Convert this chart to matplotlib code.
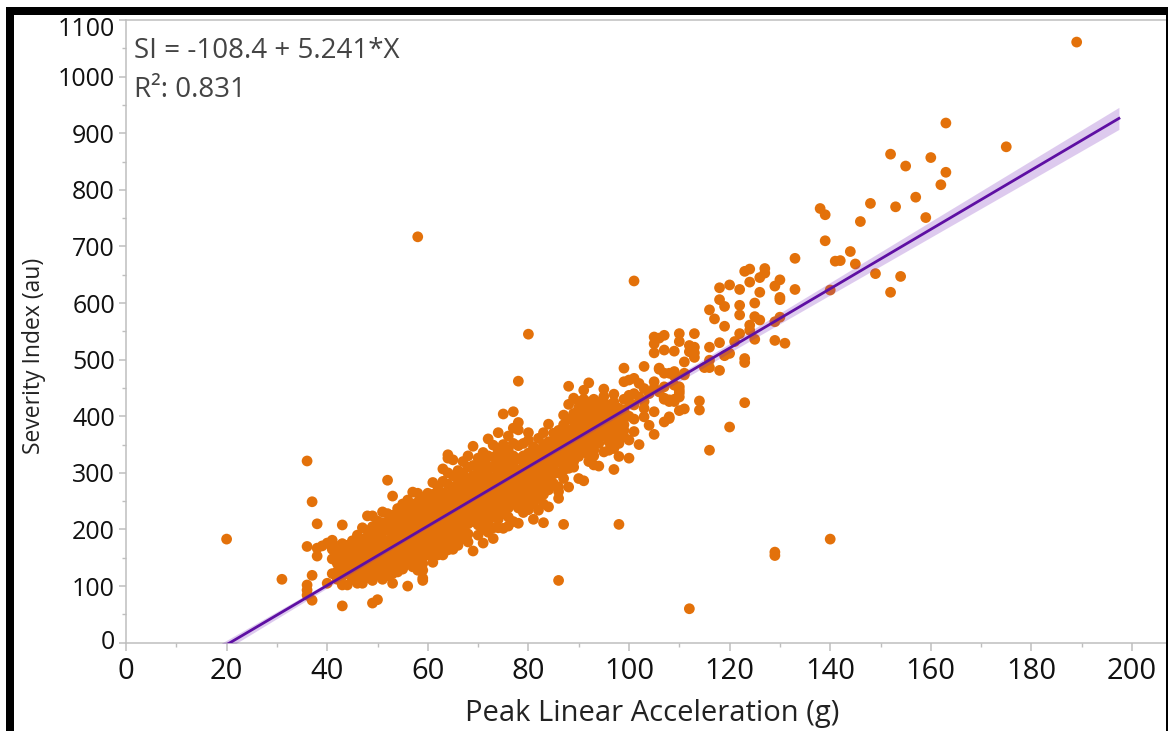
#!/usr/bin/env python3
"""Severity index against peak linear acceleration, with fitted line and confidence band."""

from __future__ import annotations

import matplotlib

matplotlib.use("Agg")

import matplotlib.pyplot as plt
from matplotlib.patches import Rectangle
from matplotlib.ticker import MultipleLocator
from matplotlib.transforms import ScaledTranslation


OUTFIG = "out.png"

# Impacts grouped by peak linear acceleration (g).
PLA_G = [
    20, 31, 36, 37, 38, 39, 40, 41, 42, 43, 44, 45, 46, 47, 48, 49, 50,
    51, 52, 53, 54, 55, 56, 57, 58, 59, 60, 61, 62, 63, 64, 65, 66, 67,
    68, 69, 70, 71, 72, 73, 74, 75, 76, 77, 78, 79, 80, 81, 82, 83, 84,
    85, 86, 87, 88, 89, 90, 91, 92, 93, 94, 95, 96, 97, 98, 99, 100, 101,
    102, 103, 104, 105, 106, 107, 108, 109, 110, 111, 112, 113, 114, 115,
    116, 117, 118, 119, 120, 121, 122, 123, 124, 125, 126, 127, 129, 130,
    131, 133, 138, 139, 140, 141, 142, 144, 145, 146, 148, 149, 152, 153,
    154, 155, 157, 159, 160, 162, 163, 175, 189,
]
SEVERITY_AU = [
    [183],
    [112],
    [321, 170, 102, 93, 84],
    [249, 119, 75],
    [210, 167, 153],
    [171],
    [176, 105],
    [181, 165, 148, 122],
    [170, 164, 152, 140, 126, 112],
    [208, 175, 160, 146, 133, 118, 102, 65],
    [172, 158, 150, 136, 122, 102],
    [180, 166, 155, 140, 128, 112],
    [190, 172, 160, 148, 134, 122, 105],
    [203, 183, 170, 158, 146, 130, 118, 105],
    [224, 198, 182, 168, 155, 142, 130, 115],
    [224, 205, 188, 172, 160, 148, 135, 122, 110, 70],
    [215, 198, 182, 170, 155, 142, 130, 120, 76],
    [231, 212, 196, 180, 165, 150, 138, 125, 112],
    [287, 228, 212, 198, 180, 170, 155, 140, 128, 118],
    [259, 225, 210, 195, 182, 168, 152, 138, 122, 105],
    [237, 222, 208, 192, 178, 165, 150, 136, 125],
    [245, 230, 215, 200, 185, 172, 158, 145, 130],
    [252, 238, 222, 208, 195, 180, 165, 150, 140, 100],
    [266, 245, 230, 215, 200, 186, 172, 158, 145, 134],
    [717, 264, 248, 232, 218, 205, 190, 175, 160, 145, 128],
    [255, 240, 225, 212, 198, 184, 170, 155, 140, 128, 114, 110],
    [264, 250, 235, 222, 208, 195, 180, 168, 155],
    [283, 262, 248, 232, 218, 205, 190, 175, 160, 142],
    [275, 258, 242, 228, 214, 200, 185, 170, 155],
    [307, 285, 265, 250, 235, 220, 205, 190, 172, 155],
    [332, 326, 300, 280, 262, 245, 228, 212, 196, 180, 164],
    [323, 295, 275, 258, 240, 225, 210, 195, 181, 165],
    [304, 288, 270, 252, 236, 220, 205, 190, 172],
    [320, 300, 282, 265, 248, 232, 216, 200, 184],
    [330, 310, 290, 272, 255, 240, 225, 210, 192, 178],
    [347, 313, 295, 278, 262, 245, 230, 214, 162],
    [326, 308, 292, 275, 258, 242, 225, 208, 190],
    [336, 318, 300, 285, 268, 252, 235, 218, 200, 176],
    [360, 330, 312, 295, 278, 262, 245, 228, 210, 195],
    [349, 328, 310, 292, 275, 258, 240, 222, 203, 184],
    [371, 340, 320, 302, 285, 268, 250, 235, 218, 203],
    [404, 350, 330, 312, 295, 278, 262, 245, 228, 202],
    [365, 340, 322, 305, 288, 270, 255, 238, 222, 206],
    [408, 379, 352, 330, 312, 295, 278, 262, 245, 214],
    [462, 389, 376, 348, 325, 305, 288, 272, 255, 238, 211],
    [352, 330, 312, 295, 280, 262, 248, 230],
    [545, 371, 358, 335, 318, 300, 285, 268, 250, 235],
    [346, 328, 310, 295, 278, 262, 245, 218],
    [361, 340, 322, 305, 288, 272, 255, 234],
    [371, 350, 332, 315, 298, 280, 262, 245, 212],
    [386, 355, 340, 322, 305, 288, 270, 240],
    [370, 355, 345, 335, 325, 310, 298, 281, 278],
    [375, 367, 355, 340, 330, 320, 300, 275, 267, 255, 110],
    [402, 385, 370, 358, 345, 335, 325, 315, 305, 290, 209],
    [453, 421, 395, 376, 365, 350, 340, 328, 318, 308, 275],
    [432, 405, 395, 380, 370, 355, 345, 330, 320, 310],
    [426, 415, 402, 391, 380, 365, 355, 345, 329, 290],
    [446, 430, 414, 400, 385, 372, 360, 350, 338, 286],
    [459, 425, 410, 395, 380, 368, 355, 342, 331, 320],
    [430, 414, 398, 383, 370, 360, 352, 340, 330, 314],
    [425, 411, 395, 385, 375, 368, 360, 352, 312],
    [448, 435, 420, 410, 400, 390, 380, 372, 365, 337],
    [420, 410, 400, 390, 375, 365, 355, 340],
    [439, 425, 408, 395, 385, 370, 358, 343, 306],
    [414, 405, 390, 380, 370, 352, 329, 209],
    [485, 461, 430, 411, 400, 385, 375, 364],
    [464, 437, 426, 400, 358, 326],
    [639, 467, 440, 420, 395, 373],
    [458, 434, 350],
    [488, 449, 426, 414, 399],
    [440, 384],
    [540, 528, 512, 461, 450, 408, 368],
    [538, 485, 483, 443],
    [543, 517, 476, 452, 432, 430, 390],
    [476, 429, 426, 399, 396],
    [515, 479, 471, 455, 430, 426],
    [546, 532, 452, 446, 441, 434, 410],
    [496, 476, 473, 413],
    [525, 514, 60],
    [546, 522, 512, 504],
    [427, 411],
    [486],
    [588, 522, 499, 486, 340],
    [572],
    [627, 606, 530, 481],
    [594, 559, 507],
    [632, 511, 381],
    [532],
    [624, 596, 579, 546],
    [656, 502, 495, 424],
    [660, 637, 561, 552],
    [600, 576, 536],
    [645, 619, 570],
    [661, 653],
    [630, 567, 534, 160, 154],
    [641, 610, 606, 575],
    [529],
    [679, 624],
    [767],
    [756, 710],
    [623, 183],
    [674],
    [675],
    [691],
    [669],
    [744],
    [776],
    [652],
    [863, 619],
    [770],
    [647],
    [842],
    [787],
    [751],
    [857],
    [809],
    [918, 831],
    [876],
    [1061],
]

# Fitted line and half width of its confidence band, read at these x values.
FIT_X = [19, 40, 60, 70, 80, 100, 120, 140, 160, 180, 197.4]
FIT_SI = [-8.8, 101.2, 206.1, 258.5, 310.9, 415.7, 520.5, 625.3, 730.2, 835.0, 926.2]
BAND_HALF = [8, 4.5, 3, 3, 3, 5, 8, 11, 14, 17, 19.5]

X_TICKS = list(range(0, 201, 20))
Y_TICKS = list(range(0, 1101, 100))
X_LABEL = "Peak Linear Acceleration (g)"
Y_LABEL = "Severity Index (au)"
FIT_TEXT = "SI = -108.4 + 5.241*X"
R2_TEXT = "R²: 0.831"

ORANGE = "#E3710A"
PURPLE = "#5E0FA3"
AXIS_GREY = "#BEBEBE"

W, H = 1168, 731
AX_LEFT, AX_RIGHT, AX_TOP, AX_BOTTOM = 126, 1166, 20, 642.7


def _add_frame(fig) -> None:
    # Black screenshot border on the left, top and right.
    boxes = [
        (6, 0, 8, H - 7),
        (6, H - 15, W - 6, 8),
        (1166, 0, 1.5, H - 7),
    ]
    for x, y, w, h in boxes:
        fig.add_artist(
            Rectangle((x / W, y / H), w / W, h / H, transform=fig.transFigure,
                      facecolor="black", edgecolor="none", zorder=10)
        )


def _shift_label(label, fig, dy_px: float) -> None:
    label.set_transform(
        label.get_transform() + ScaledTranslation(0, dy_px / 100, fig.dpi_scale_trans)
    )


def main() -> None:
    plt.rcParams["font.family"] = ["Open Sans", "DejaVu Sans"]

    fig = plt.figure(figsize=(W / 100, H / 100), dpi=100, facecolor="white")
    ax = fig.add_axes([
        AX_LEFT / W,
        (H - AX_BOTTOM) / H,
        (AX_RIGHT - AX_LEFT) / W,
        (AX_BOTTOM - AX_TOP) / H,
    ])

    xs, ys = [], []
    for pla, values in zip(PLA_G, SEVERITY_AU):
        xs.extend([pla] * len(values))
        ys.extend(values)

    ax.scatter(xs, ys, s=60, color=ORANGE, edgecolors="none", zorder=2)

    lower = [si - half for si, half in zip(FIT_SI, BAND_HALF)]
    upper = [si + half for si, half in zip(FIT_SI, BAND_HALF)]
    ax.fill_between(FIT_X, lower, upper, color="#7B2FBE", alpha=0.25, linewidth=0, zorder=3)
    ax.plot(FIT_X, FIT_SI, color=PURPLE, linewidth=2.0, zorder=4)

    ax.set_xlim(0, (AX_RIGHT - AX_LEFT) / 5.03)
    ax.set_ylim(0, 1100)
    ax.set_xticks(X_TICKS)
    ax.set_yticks(Y_TICKS)
    ax.xaxis.set_minor_locator(MultipleLocator(10))
    ax.yaxis.set_minor_locator(MultipleLocator(50))

    ax.tick_params(axis="both", which="major", width=1.1, color=AXIS_GREY, labelcolor="#111111")
    ax.tick_params(axis="both", which="minor", length=3, width=1.0, color=AXIS_GREY)
    ax.tick_params(axis="x", which="major", length=6, pad=4, labelsize=21)
    ax.tick_params(axis="y", which="major", length=5, pad=3, labelsize=18)

    for side in ("left", "top", "bottom"):
        ax.spines[side].set_color(AXIS_GREY)
        ax.spines[side].set_linewidth(1.1)
    ax.spines["right"].set_visible(False)

    # The end labels sit inside the panel rather than centred on their ticks.
    y_labels = ax.get_yticklabels()
    _shift_label(y_labels[-1], fig, -7)
    _shift_label(y_labels[0], fig, 3)

    ax.set_xlabel(X_LABEL, fontsize=21, color="#222222", va="center", ha="center")
    ax.set_ylabel(Y_LABEL, fontsize=16.5, color="#222222", va="center", ha="center")
    ax.xaxis.set_label_coords(
        (652 - AX_LEFT) / (AX_RIGHT - AX_LEFT), -(713 - AX_BOTTOM) / (AX_BOTTOM - AX_TOP)
    )
    ax.yaxis.set_label_coords(
        -(AX_LEFT - 34) / (AX_RIGHT - AX_LEFT), (AX_BOTTOM - 356) / (AX_BOTTOM - AX_TOP)
    )

    fig.text(134 / W, 1 - 51 / H, FIT_TEXT, fontsize=20, color="#444444", va="center", ha="left")
    fig.text(134 / W, 1 - 90 / H, R2_TEXT, fontsize=20, color="#444444", va="center", ha="left")

    _add_frame(fig)
    fig.savefig(OUTFIG, dpi=100)
    plt.close(fig)


if __name__ == "__main__":
    main()
